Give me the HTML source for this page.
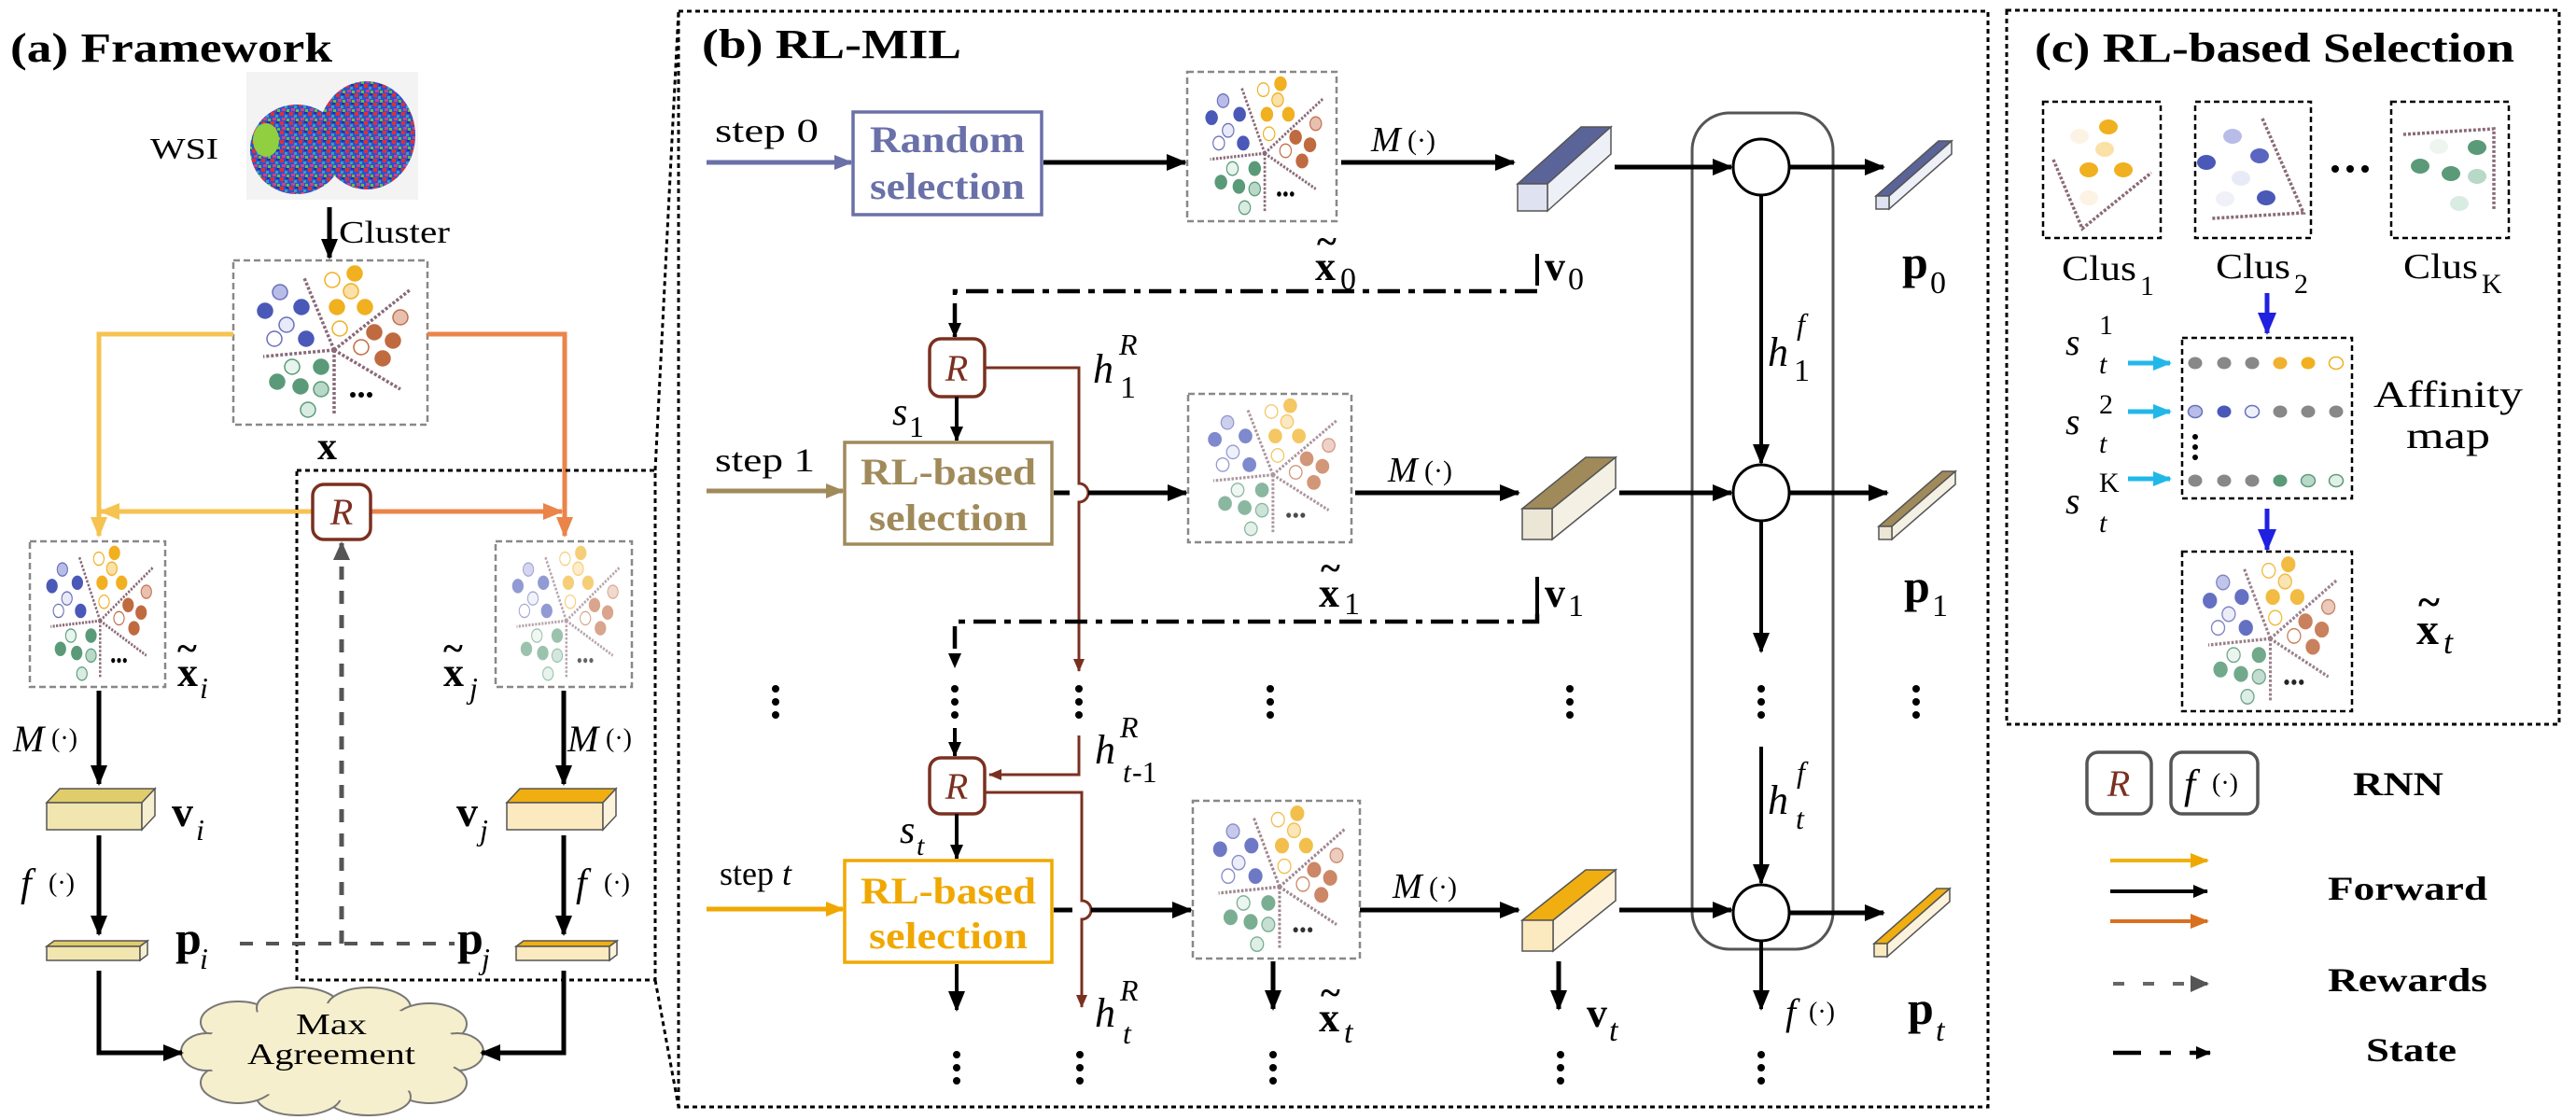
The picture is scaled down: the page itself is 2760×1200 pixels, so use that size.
<!DOCTYPE html>
<html><head><meta charset="utf-8"><style>
html,body{margin:0;padding:0;background:#fff;}
svg{display:block;font-family:"Liberation Serif","DejaVu Serif",serif;}
svg text, svg tspan{font-family:"Liberation Serif","DejaVu Serif",serif;}
.b{font-weight:bold;}
.i{font-style:italic;}
</style></head><body>
<svg width="2760" height="1200" viewBox="0 0 2760 1200" xmlns="http://www.w3.org/2000/svg" font-family="Liberation Serif, DejaVu Serif, serif">
<defs>
<marker id="ak" markerUnits="userSpaceOnUse" markerWidth="22" markerHeight="18" refX="20" refY="9" orient="auto"><path d="M0,0 L22,9 L0,18 z" fill="#000"/></marker>
<marker id="aks" markerUnits="userSpaceOnUse" markerWidth="16" markerHeight="14" refX="15" refY="7" orient="auto"><path d="M0,0 L16,7 L0,14 z" fill="#000"/></marker>
<marker id="ay" markerUnits="userSpaceOnUse" markerWidth="22" markerHeight="18" refX="20" refY="9" orient="auto"><path d="M0,0 L22,9 L0,18 z" fill="#f6c350"/></marker>
<marker id="ao" markerUnits="userSpaceOnUse" markerWidth="22" markerHeight="18" refX="20" refY="9" orient="auto"><path d="M0,0 L22,9 L0,18 z" fill="#eb8448"/></marker>
<marker id="ag" markerUnits="userSpaceOnUse" markerWidth="20" markerHeight="18" refX="18" refY="9" orient="auto"><path d="M0,0 L20,9 L0,18 z" fill="#555"/></marker>
<marker id="abr" markerUnits="userSpaceOnUse" markerWidth="14" markerHeight="12" refX="13" refY="6" orient="auto"><path d="M0,0 L14,6 L0,12 z" fill="#7a3020"/></marker>
<marker id="apu" markerUnits="userSpaceOnUse" markerWidth="20" markerHeight="16" refX="18" refY="8" orient="auto"><path d="M0,0 L20,8 L0,16 z" fill="#6a70a8"/></marker>
<marker id="abn" markerUnits="userSpaceOnUse" markerWidth="20" markerHeight="16" refX="18" refY="8" orient="auto"><path d="M0,0 L20,8 L0,16 z" fill="#a08a5a"/></marker>
<marker id="ayl" markerUnits="userSpaceOnUse" markerWidth="20" markerHeight="16" refX="18" refY="8" orient="auto"><path d="M0,0 L20,8 L0,16 z" fill="#f0a800"/></marker>
<marker id="aor" markerUnits="userSpaceOnUse" markerWidth="20" markerHeight="16" refX="18" refY="8" orient="auto"><path d="M0,0 L20,8 L0,16 z" fill="#d87020"/></marker>
<marker id="abl" markerUnits="userSpaceOnUse" markerWidth="24" markerHeight="20" refX="22" refY="10" orient="auto"><path d="M0,0 L24,10 L0,20 z" fill="#2020e0"/></marker>
<marker id="acy" markerUnits="userSpaceOnUse" markerWidth="20" markerHeight="16" refX="18" refY="8" orient="auto"><path d="M0,0 L20,8 L0,16 z" fill="#20b8e8"/></marker>
<pattern id="wsi" width="10" height="10" patternUnits="userSpaceOnUse">
<rect width="10" height="10" fill="#3050d0"/><rect x="0" y="0" width="4" height="4" fill="#e03030"/><rect x="5" y="3" width="3" height="3" fill="#30a0c0"/><rect x="2" y="6" width="4" height="3" fill="#d04080"/><rect x="7" y="7" width="3" height="3" fill="#60c040"/><rect x="6" y="0" width="3" height="2" fill="#2030a0"/>
</pattern>
<symbol id="sc" viewBox="0 0 208 176" preserveAspectRatio="none">
<g stroke="#8a6a78" stroke-width="3.5" stroke-dasharray="3 2" fill="none">
<line x1="108" y1="96" x2="76" y2="19"/><line x1="108" y1="96" x2="190" y2="31"/><line x1="108" y1="96" x2="179" y2="138"/><line x1="108" y1="96" x2="108" y2="164"/><line x1="108" y1="96" x2="32" y2="103"/>
</g>
<g stroke-width="1.5">
<circle cx="34" cy="54" r="8" fill="#4a58b8" stroke="#4a58b8"/><circle cx="73" cy="50" r="8" fill="#4a58b8" stroke="#4a58b8"/><circle cx="78" cy="84" r="8" fill="#4a58b8" stroke="#4a58b8"/><circle cx="50" cy="34" r="8" fill="#b8bce8" stroke="#6a70b8"/><circle cx="57" cy="69" r="8" fill="#e8eaf8" stroke="#6a70b8"/><circle cx="44" cy="84" r="8" fill="#fff" stroke="#6a70b8"/>
<circle cx="106" cy="21" r="8" fill="#fff" stroke="#f0b020"/><circle cx="130" cy="14" r="8" fill="#f0b020" stroke="#f0b020"/><circle cx="126" cy="33" r="8" fill="#fbe0a8" stroke="#f0b020"/><circle cx="111" cy="50" r="8" fill="#f0b020" stroke="#f0b020"/><circle cx="141" cy="50" r="8" fill="#f0b020" stroke="#f0b020"/><circle cx="114" cy="73" r="8" fill="#fff" stroke="#f0b020"/>
<circle cx="179" cy="61" r="8" fill="#e8c0b0" stroke="#c07050"/><circle cx="151" cy="77" r="8" fill="#c06a40" stroke="#c06a40"/><circle cx="171" cy="86" r="8" fill="#c06a40" stroke="#c06a40"/><circle cx="160" cy="105" r="8" fill="#c06a40" stroke="#c06a40"/><circle cx="137" cy="93" r="8" fill="#fff" stroke="#c06a40"/>
<circle cx="47" cy="130" r="8" fill="#5a9a78" stroke="#5a9a78"/><circle cx="72" cy="135" r="8" fill="#5a9a78" stroke="#5a9a78"/><circle cx="94" cy="114" r="8" fill="#5a9a78" stroke="#5a9a78"/><circle cx="63" cy="114" r="8" fill="#e8f4ee" stroke="#5a9a78"/><circle cx="94" cy="138" r="8" fill="#b8d8c8" stroke="#5a9a78"/><circle cx="80" cy="160" r="8" fill="#d8ece2" stroke="#5a9a78"/>
</g>
<g fill="#000"><circle cx="128" cy="144" r="3"/><circle cx="137" cy="144" r="3"/><circle cx="146" cy="144" r="3"/></g>
</symbol>
</defs>

<!-- ================= PANEL A ================= -->
<text x="11" y="66" class="b" font-size="44" textLength="345" lengthAdjust="spacingAndGlyphs">(a) Framework</text>
<text x="161" y="170" font-size="32" textLength="73" lengthAdjust="spacingAndGlyphs">WSI</text>
<rect x="264" y="77" width="184" height="137" fill="#f3f3f3"/>
<g fill="url(#wsi)"><ellipse cx="318" cy="160" rx="50" ry="48"/><ellipse cx="393" cy="145" rx="52" ry="58"/><ellipse cx="285" cy="150" rx="14" ry="18" fill="#90d040"/></g>
<line x1="353" y1="222" x2="353" y2="276" stroke="#000" stroke-width="5" marker-end="url(#ak)"/>
<text x="363" y="260" font-size="34" textLength="119" lengthAdjust="spacingAndGlyphs">Cluster</text>

<rect x="250" y="279" width="208" height="176" fill="#fff" stroke="#888" stroke-width="2.5" stroke-dasharray="7 4"/>
<use href="#sc" x="250" y="279" width="208" height="176"/>
<text x="340" y="492" class="b" font-size="42">x</text>

<path d="M250,358 H106 V574" fill="none" stroke="#f6c350" stroke-width="5" marker-end="url(#ay)"/>
<path d="M458,358 H605 V574" fill="none" stroke="#eb8448" stroke-width="5" marker-end="url(#ao)"/>
<line x1="335" y1="548" x2="108" y2="548" stroke="#f6c350" stroke-width="5" marker-end="url(#ay)"/>
<line x1="397" y1="548" x2="602" y2="548" stroke="#eb8448" stroke-width="5" marker-end="url(#ao)"/>

<path d="M318,504 H702 V1050 H318 Z" fill="none" stroke="#000" stroke-width="3" stroke-dasharray="5 4"/>
<line x1="702" y1="504" x2="727" y2="12" stroke="#000" stroke-width="3" stroke-dasharray="5 4"/>
<line x1="702" y1="1050" x2="727" y2="1186" stroke="#000" stroke-width="3" stroke-dasharray="5 4"/>

<rect x="335" y="519" width="62" height="59" rx="12" fill="#fff" stroke="#7a3020" stroke-width="3.5"/>
<text x="366" y="562" class="i" font-size="40" fill="#7a3020" text-anchor="middle">R</text>

<rect x="32" y="580" width="145" height="156" fill="#fff" stroke="#888" stroke-width="2.5" stroke-dasharray="7 4"/>
<use href="#sc" x="32" y="580" width="145" height="156"/>
<rect x="531" y="580" width="146" height="156" fill="#fff" stroke="#888" stroke-width="2.5" stroke-dasharray="7 4"/>
<use href="#sc" x="531" y="580" width="146" height="156" opacity="0.6"/>

<text x="190" y="735" class="b" font-size="44">x</text><text x="190" y="708" class="b" font-size="40">~</text>
<text x="214" y="748" class="i" font-size="32">i</text>
<text x="475" y="735" class="b" font-size="44">x</text><text x="475" y="708" class="b" font-size="40">~</text>
<text x="503" y="748" class="i" font-size="32">j</text>

<line x1="106" y1="740" x2="106" y2="840" stroke="#000" stroke-width="5" marker-end="url(#ak)"/>
<line x1="604" y1="740" x2="604" y2="840" stroke="#000" stroke-width="5" marker-end="url(#ak)"/>
<text x="14" y="805" class="i" font-size="40">M</text><text x="55" y="800" font-size="28">(·)</text>
<text x="608" y="805" class="i" font-size="40">M</text><text x="649" y="800" font-size="28">(·)</text>

<g stroke="#555" stroke-width="1.5">
<polygon points="50,860 64,845 166,845 152,860" fill="#e0cc6a"/><rect x="50" y="860" width="102" height="29" fill="#f1e6b0"/><polygon points="152,860 166,845 166,874 152,889" fill="#f5efd0"/>
<polygon points="543,860 557,845 660,845 646,860" fill="#f0ae10"/><rect x="543" y="860" width="103" height="29" fill="#fbe9c0"/><polygon points="646,860 660,845 660,874 646,889" fill="#fdf3dc"/>
</g>
<text x="184" y="885" class="b" font-size="46">v</text><text x="210" y="900" class="i" font-size="32">i</text>
<text x="489" y="885" class="b" font-size="46">v</text><text x="514" y="900" class="i" font-size="32">j</text>

<line x1="106" y1="895" x2="106" y2="1001" stroke="#000" stroke-width="5" marker-end="url(#ak)"/>
<line x1="604" y1="895" x2="604" y2="1001" stroke="#000" stroke-width="5" marker-end="url(#ak)"/>
<text x="22" y="960" class="i" font-size="42">f</text><text x="52" y="955" font-size="28">(·)</text>
<text x="617" y="960" class="i" font-size="42">f</text><text x="647" y="955" font-size="28">(·)</text>

<g stroke="#555" stroke-width="1.5">
<polygon points="50,1014 58,1008 158,1008 150,1014" fill="#e0cc6a"/><rect x="50" y="1014" width="100" height="15" fill="#f1e6b0"/><polygon points="150,1014 158,1008 158,1023 150,1029" fill="#f5efd0"/>
<polygon points="553,1014 561,1008 661,1008 653,1014" fill="#f0ae10"/><rect x="553" y="1014" width="100" height="15" fill="#fbe9c0"/><polygon points="653,1014 661,1008 661,1023 653,1029" fill="#fdf3dc"/>
</g>
<text x="188" y="1022" class="b" font-size="50">p</text><text x="214" y="1038" class="i" font-size="32">i</text>
<text x="490" y="1022" class="b" font-size="50">p</text><text x="516" y="1038" class="i" font-size="32">j</text>

<line x1="257" y1="1011" x2="487" y2="1011" stroke="#555" stroke-width="4" stroke-dasharray="14 14"/>
<line x1="366" y1="1011" x2="366" y2="582" stroke="#555" stroke-width="5" stroke-dasharray="14 12" marker-end="url(#ag)"/>

<g fill="#f6efcd" stroke="#777" stroke-width="2">
<ellipse cx="255" cy="1095" rx="40" ry="22"/><ellipse cx="320" cy="1080" rx="45" ry="22"/><ellipse cx="395" cy="1080" rx="45" ry="22"/><ellipse cx="460" cy="1097" rx="40" ry="22"/>
<ellipse cx="490" cy="1127" rx="28" ry="20"/><ellipse cx="460" cy="1160" rx="40" ry="22"/><ellipse cx="395" cy="1175" rx="45" ry="20"/><ellipse cx="320" cy="1175" rx="45" ry="20"/><ellipse cx="255" cy="1160" rx="40" ry="22"/><ellipse cx="222" cy="1127" rx="28" ry="20"/>
</g>
<ellipse cx="355" cy="1127" rx="138" ry="52" fill="#f6efcd"/>
<text x="355" y="1108" font-size="32" text-anchor="middle" textLength="76" lengthAdjust="spacingAndGlyphs">Max</text>
<text x="355" y="1140" font-size="32" text-anchor="middle" textLength="180" lengthAdjust="spacingAndGlyphs">Agreement</text>
<path d="M106,1040 V1128 H195" fill="none" stroke="#000" stroke-width="5" marker-end="url(#ak)"/>
<path d="M604,1040 V1128 H516" fill="none" stroke="#000" stroke-width="5" marker-end="url(#ak)"/>

<!-- ================= PANEL B ================= -->
<rect x="727" y="12" width="1403" height="1174" fill="none" stroke="#000" stroke-width="3" stroke-dasharray="5 4"/>
<text x="752" y="62" class="b" font-size="44" textLength="278" lengthAdjust="spacingAndGlyphs">(b) RL-MIL</text>

<rect x="1813" y="121" width="151" height="896" rx="40" fill="none" stroke="#555" stroke-width="3"/>

<text x="766" y="152" font-size="36" textLength="111" lengthAdjust="spacingAndGlyphs">step 0</text>
<line x1="757" y1="174" x2="912" y2="174" stroke="#6a70a8" stroke-width="5" marker-end="url(#apu)"/>
<rect x="914" y="120" width="202" height="110" fill="#fff" stroke="#6a70a8" stroke-width="3.5"/>
<text x="1015" y="163" class="b" font-size="40" fill="#6a70a8" text-anchor="middle" textLength="166" lengthAdjust="spacingAndGlyphs">Random</text>
<text x="1015" y="213" class="b" font-size="40" fill="#6a70a8" text-anchor="middle" textLength="166" lengthAdjust="spacingAndGlyphs">selection</text>
<line x1="1118" y1="174" x2="1270" y2="174" stroke="#000" stroke-width="5" marker-end="url(#ak)"/>
<rect x="1272" y="77" width="160" height="160" fill="#fff" stroke="#888" stroke-width="2.5" stroke-dasharray="7 4"/>
<use href="#sc" x="1272" y="77" width="160" height="160"/>
<text x="1409" y="300" class="b" font-size="44">x</text><text x="1411" y="272" class="b" font-size="40">~</text><text x="1436" y="310" font-size="34">0</text>
<text x="1469" y="162" class="i" font-size="38">M</text><text x="1508" y="160" font-size="30">(·)</text>
<line x1="1437" y1="174" x2="1622" y2="174" stroke="#000" stroke-width="5" marker-end="url(#ak)"/>
<g stroke="#555" stroke-width="1.5">
<polygon points="1626,197 1694,136 1726,136 1658,197" fill="#5a6498"/><polygon points="1658,197 1726,136 1726,165 1658,226" fill="#eef0f8"/><rect x="1626" y="197" width="32" height="29" fill="#dfe2f0"/>
</g>
<line x1="1647" y1="272" x2="1647" y2="306" stroke="#000" stroke-width="4"/>
<text x="1655" y="300" class="b" font-size="44">v</text><text x="1680" y="310" font-size="34">0</text>
<line x1="1730" y1="179" x2="1855" y2="179" stroke="#000" stroke-width="5" marker-end="url(#ak)"/>
<circle cx="1887" cy="179" r="30" fill="#fff" stroke="#000" stroke-width="3"/>
<line x1="1917" y1="179" x2="2018" y2="179" stroke="#000" stroke-width="5" marker-end="url(#ak)"/>
<g stroke="#555" stroke-width="1.5">
<polygon points="2010,210 2077,151 2091,151 2024,210" fill="#5a6498"/><polygon points="2024,210 2091,151 2091,165 2024,224" fill="#eef0f8"/><rect x="2010" y="210" width="14" height="14" fill="#dfe2f0"/>
</g>
<text x="2038" y="298" class="b" font-size="50">p</text><text x="2068" y="314" font-size="34">0</text>

<line x1="1887" y1="209" x2="1887" y2="496" stroke="#000" stroke-width="4" marker-end="url(#ak)"/>
<text x="1894" y="392" class="i" font-size="44">h</text><text x="1925" y="358" class="i" font-size="32">f</text><text x="1922" y="408" font-size="34">1</text>
<line x1="1887" y1="558" x2="1887" y2="698" stroke="#000" stroke-width="4" marker-end="url(#ak)"/>
<line x1="1887" y1="800" x2="1887" y2="946" stroke="#000" stroke-width="4" marker-end="url(#ak)"/>
<text x="1894" y="872" class="i" font-size="44">h</text><text x="1925" y="838" class="i" font-size="32">f</text><text x="1924" y="888" class="i" font-size="32">t</text>
<line x1="1887" y1="1008" x2="1887" y2="1081" stroke="#000" stroke-width="4" marker-end="url(#ak)"/>
<text x="1913" y="1098" class="i" font-size="40">f</text><text x="1938" y="1093" font-size="28">(·)</text>

<path d="M1647,312 H1023 V361" fill="none" stroke="#000" stroke-width="4.5" stroke-dasharray="24 9 7 9" marker-end="url(#aks)"/>
<rect x="996" y="363" width="59" height="62" rx="12" fill="#fff" stroke="#7a3020" stroke-width="3.5"/>
<text x="1025" y="408" class="i" font-size="40" fill="#7a3020" text-anchor="middle">R</text>
<line x1="1025" y1="425" x2="1025" y2="472" stroke="#000" stroke-width="4" marker-end="url(#aks)"/>
<text x="956" y="455" class="i" font-size="42">s</text><text x="974" y="468" font-size="32">1</text>
<path d="M1055,394 H1156 V518 a10,10 0 0 1 0,20 V719" fill="none" stroke="#7a3020" stroke-width="3" marker-end="url(#abr)"/>
<text x="1171" y="410" class="i" font-size="44">h</text><text x="1199" y="380" class="i" font-size="32">R</text><text x="1200" y="426" font-size="34">1</text>

<text x="766" y="505" font-size="36" textLength="107" lengthAdjust="spacingAndGlyphs">step 1</text>
<line x1="757" y1="526" x2="903" y2="526" stroke="#a08a5a" stroke-width="5" marker-end="url(#abn)"/>
<rect x="905" y="474" width="222" height="109" fill="#fff" stroke="#a08a5a" stroke-width="3.5"/>
<text x="1016" y="519" class="b" font-size="40" fill="#a08a5a" text-anchor="middle" textLength="188" lengthAdjust="spacingAndGlyphs">RL-based</text>
<text x="1016" y="568" class="b" font-size="40" fill="#a08a5a" text-anchor="middle" textLength="170" lengthAdjust="spacingAndGlyphs">selection</text>
<line x1="1129" y1="528" x2="1146" y2="528" stroke="#000" stroke-width="5"/>
<line x1="1166" y1="528" x2="1271" y2="528" stroke="#000" stroke-width="5" marker-end="url(#ak)"/>
<rect x="1273" y="422" width="175" height="159" fill="#fff" stroke="#888" stroke-width="2.5" stroke-dasharray="7 4"/>
<use href="#sc" x="1273" y="422" width="175" height="159" opacity="0.7"/>
<text x="1413" y="650" class="b" font-size="44">x</text><text x="1415" y="622" class="b" font-size="40">~</text><text x="1440" y="658" font-size="34">1</text>
<text x="1487" y="516" class="i" font-size="38">M</text><text x="1526" y="514" font-size="30">(·)</text>
<line x1="1452" y1="528" x2="1627" y2="528" stroke="#000" stroke-width="5" marker-end="url(#ak)"/>
<g stroke="#555" stroke-width="1.5">
<polygon points="1631,545 1699,490 1731,490 1663,545" fill="#a08a5a"/><polygon points="1663,545 1731,490 1731,523 1663,578" fill="#f4f0e4"/><rect x="1631" y="545" width="32" height="33" fill="#ebe6d6"/>
</g>
<line x1="1647" y1="618" x2="1647" y2="658" stroke="#000" stroke-width="4"/>
<text x="1655" y="650" class="b" font-size="44">v</text><text x="1680" y="660" font-size="34">1</text>
<line x1="1735" y1="528" x2="1855" y2="528" stroke="#000" stroke-width="5" marker-end="url(#ak)"/>
<circle cx="1887" cy="528" r="30" fill="#fff" stroke="#000" stroke-width="3"/>
<line x1="1917" y1="528" x2="2022" y2="528" stroke="#000" stroke-width="5" marker-end="url(#ak)"/>
<g stroke="#555" stroke-width="1.5">
<polygon points="2013,564 2081,505 2095,505 2027,564" fill="#a08a5a"/><polygon points="2027,564 2095,505 2095,519 2027,578" fill="#f4f0e4"/><rect x="2013" y="564" width="14" height="14" fill="#ebe6d6"/>
</g>
<text x="2040" y="645" class="b" font-size="50">p</text><text x="2070" y="660" font-size="34">1</text>

<path d="M1647,658 V666 H1023 V715" fill="none" stroke="#000" stroke-width="4.5" stroke-dasharray="24 9 7 9" marker-end="url(#aks)"/>

<g fill="#000">
<circle cx="831" cy="738" r="4"/><circle cx="831" cy="752" r="4"/><circle cx="831" cy="766" r="4"/>
<circle cx="1023" cy="738" r="4"/><circle cx="1023" cy="752" r="4"/><circle cx="1023" cy="766" r="4"/>
<circle cx="1156" cy="738" r="4"/><circle cx="1156" cy="752" r="4"/><circle cx="1156" cy="766" r="4"/>
<circle cx="1361" cy="738" r="4"/><circle cx="1361" cy="752" r="4"/><circle cx="1361" cy="766" r="4"/>
<circle cx="1682" cy="738" r="4"/><circle cx="1682" cy="752" r="4"/><circle cx="1682" cy="766" r="4"/>
<circle cx="1887" cy="738" r="4"/><circle cx="1887" cy="752" r="4"/><circle cx="1887" cy="766" r="4"/>
<circle cx="2053" cy="738" r="4"/><circle cx="2053" cy="752" r="4"/><circle cx="2053" cy="766" r="4"/>
</g>
<line x1="1023" y1="780" x2="1023" y2="810" stroke="#000" stroke-width="4" marker-end="url(#aks)"/>

<rect x="996" y="812" width="59" height="60" rx="12" fill="#fff" stroke="#7a3020" stroke-width="3.5"/>
<text x="1025" y="856" class="i" font-size="40" fill="#7a3020" text-anchor="middle">R</text>
<path d="M1156,788 V830 H1060" fill="none" stroke="#7a3020" stroke-width="3" marker-end="url(#abr)"/>
<text x="1173" y="818" class="i" font-size="44">h</text><text x="1200" y="790" class="i" font-size="32">R</text><text x="1203" y="838" class="i" font-size="32">t</text><text x="1213" y="838" font-size="32">-1</text>
<path d="M1055,849 H1159 V965 a10,10 0 0 1 0,20 V1079" fill="none" stroke="#7a3020" stroke-width="3" marker-end="url(#abr)"/>
<text x="1173" y="1100" class="i" font-size="44">h</text><text x="1200" y="1072" class="i" font-size="32">R</text><text x="1203" y="1118" class="i" font-size="32">t</text>
<line x1="1025" y1="872" x2="1025" y2="920" stroke="#000" stroke-width="4" marker-end="url(#aks)"/>
<text x="964" y="903" class="i" font-size="42">s</text><text x="982" y="916" class="i" font-size="30">t</text>

<text x="771" y="948" font-size="36">step <tspan class="i">t</tspan></text>
<line x1="757" y1="974" x2="903" y2="974" stroke="#f0a800" stroke-width="5" marker-end="url(#ayl)"/>
<rect x="905" y="922" width="222" height="109" fill="#fff" stroke="#f0a800" stroke-width="3.5"/>
<text x="1016" y="968" class="b" font-size="40" fill="#f0a800" text-anchor="middle" textLength="188" lengthAdjust="spacingAndGlyphs">RL-based</text>
<text x="1016" y="1016" class="b" font-size="40" fill="#f0a800" text-anchor="middle" textLength="170" lengthAdjust="spacingAndGlyphs">selection</text>
<line x1="1129" y1="975" x2="1149" y2="975" stroke="#000" stroke-width="5"/>
<line x1="1169" y1="975" x2="1276" y2="975" stroke="#000" stroke-width="5" marker-end="url(#ak)"/>
<line x1="1025" y1="1033" x2="1025" y2="1082" stroke="#000" stroke-width="4" marker-end="url(#ak)"/>
<rect x="1278" y="858" width="179" height="169" fill="#fff" stroke="#888" stroke-width="2.5" stroke-dasharray="7 4"/>
<use href="#sc" x="1278" y="858" width="179" height="169" opacity="0.8"/>
<line x1="1364" y1="1030" x2="1364" y2="1081" stroke="#000" stroke-width="5" marker-end="url(#ak)"/>
<text x="1413" y="1105" class="b" font-size="44">x</text><text x="1415" y="1077" class="b" font-size="40">~</text><text x="1440" y="1117" class="i" font-size="34">t</text>
<text x="1492" y="962" class="i" font-size="38">M</text><text x="1531" y="960" font-size="30">(·)</text>
<line x1="1457" y1="975" x2="1627" y2="975" stroke="#000" stroke-width="5" marker-end="url(#ak)"/>
<g stroke="#555" stroke-width="1.5">
<polygon points="1631,986 1699,932 1731,932 1664,986" fill="#f0ae10"/><polygon points="1664,986 1731,932 1731,965 1664,1019" fill="#fdf3dc"/><rect x="1631" y="986" width="33" height="33" fill="#fbe9c0"/>
</g>
<line x1="1670" y1="1030" x2="1670" y2="1081" stroke="#000" stroke-width="5" marker-end="url(#ak)"/>
<text x="1700" y="1100" class="b" font-size="44">v</text><text x="1724" y="1115" class="i" font-size="34">t</text>
<line x1="1735" y1="975" x2="1855" y2="975" stroke="#000" stroke-width="5" marker-end="url(#ak)"/>
<circle cx="1887" cy="978" r="30" fill="#fff" stroke="#000" stroke-width="3"/>
<line x1="1917" y1="978" x2="2018" y2="978" stroke="#000" stroke-width="5" marker-end="url(#ak)"/>
<g stroke="#555" stroke-width="1.5">
<polygon points="2008,1011 2075,952 2089,952 2022,1011" fill="#f0ae10"/><polygon points="2022,1011 2089,952 2089,966 2022,1025" fill="#fdf3dc"/><rect x="2008" y="1011" width="14" height="14" fill="#fbe9c0"/>
</g>
<text x="2044" y="1097" class="b" font-size="50">p</text><text x="2074" y="1115" class="i" font-size="34">t</text>

<g fill="#000">
<circle cx="1025" cy="1130" r="4"/><circle cx="1025" cy="1144" r="4"/><circle cx="1025" cy="1158" r="4"/>
<circle cx="1157" cy="1130" r="4"/><circle cx="1157" cy="1144" r="4"/><circle cx="1157" cy="1158" r="4"/>
<circle cx="1364" cy="1130" r="4"/><circle cx="1364" cy="1144" r="4"/><circle cx="1364" cy="1158" r="4"/>
<circle cx="1672" cy="1130" r="4"/><circle cx="1672" cy="1144" r="4"/><circle cx="1672" cy="1158" r="4"/>
<circle cx="1887" cy="1130" r="4"/><circle cx="1887" cy="1144" r="4"/><circle cx="1887" cy="1158" r="4"/>
</g>

<!-- ================= PANEL C ================= -->
<rect x="2150" y="11" width="592" height="765" fill="none" stroke="#000" stroke-width="3" stroke-dasharray="5 4"/>
<text x="2180" y="66" class="b" font-size="44" textLength="514" lengthAdjust="spacingAndGlyphs">(c) RL-based Selection</text>

<g fill="#fff" stroke="#000" stroke-width="2.5" stroke-dasharray="6 4">
<rect x="2189" y="109" width="126" height="146"/><rect x="2352" y="109" width="124" height="146"/><rect x="2562" y="109" width="126" height="146"/>
</g>
<polyline points="2200,171 2231,245 2305,185" fill="none" stroke="#8a6a78" stroke-width="3.5" stroke-dasharray="3 2"/>
<g><ellipse cx="2228" cy="146" rx="10" ry="8" fill="#fdf3e4"/><ellipse cx="2259" cy="136" rx="10" ry="8" fill="#f0b020"/><ellipse cx="2255" cy="160" rx="10" ry="8" fill="#fbe0a8"/><ellipse cx="2238" cy="182" rx="10" ry="8" fill="#f0b020"/><ellipse cx="2275" cy="182" rx="10" ry="8" fill="#f0b020"/><ellipse cx="2238" cy="212" rx="10" ry="8" fill="#fdf3e4"/></g>
<polyline points="2424,127 2468,228 2370,234" fill="none" stroke="#8a6a78" stroke-width="3.5" stroke-dasharray="3 2"/>
<g><ellipse cx="2392" cy="146" rx="10" ry="8" fill="#b8bce8"/><ellipse cx="2364" cy="174" rx="10" ry="8" fill="#4a58b8"/><ellipse cx="2421" cy="167" rx="10" ry="8" fill="#5a66c0"/><ellipse cx="2401" cy="191" rx="10" ry="8" fill="#e8eaf8"/><ellipse cx="2384" cy="213" rx="10" ry="8" fill="#f0f0f8"/><ellipse cx="2428" cy="212" rx="10" ry="8" fill="#4a58b8"/></g>
<g fill="#000"><circle cx="2502" cy="181" r="4"/><circle cx="2518" cy="181" r="4"/><circle cx="2534" cy="181" r="4"/></g>
<polyline points="2575,144 2672,138 2672,225" fill="none" stroke="#8a6a78" stroke-width="3.5" stroke-dasharray="3 2"/>
<g><ellipse cx="2613" cy="157" rx="10" ry="8" fill="#eef4f0"/><ellipse cx="2654" cy="158" rx="10" ry="8" fill="#5a9a78"/><ellipse cx="2593" cy="178" rx="10" ry="8" fill="#5a9a78"/><ellipse cx="2626" cy="186" rx="10" ry="8" fill="#5a9a78"/><ellipse cx="2654" cy="189" rx="10" ry="8" fill="#b8d8c8"/><ellipse cx="2635" cy="218" rx="10" ry="8" fill="#d8ece2"/></g>
<text x="2209" y="300" font-size="38" textLength="80" lengthAdjust="spacingAndGlyphs">Clus</text><text x="2293" y="316" font-size="30">1</text>
<text x="2374" y="298" font-size="38" textLength="80" lengthAdjust="spacingAndGlyphs">Clus</text><text x="2458" y="314" font-size="30">2</text>
<text x="2575" y="298" font-size="38" textLength="80" lengthAdjust="spacingAndGlyphs">Clus</text><text x="2659" y="314" font-size="30">K</text>

<line x1="2429" y1="314" x2="2429" y2="357" stroke="#2020e0" stroke-width="5" marker-end="url(#abl)"/>
<rect x="2338" y="362" width="182" height="172" fill="#fff" stroke="#000" stroke-width="2.5" stroke-dasharray="6 4"/>
<g>
<ellipse cx="2352" cy="389" rx="7.5" ry="6.5" fill="#888"/><ellipse cx="2383" cy="389" rx="7.5" ry="6.5" fill="#888"/><ellipse cx="2413" cy="389" rx="7.5" ry="6.5" fill="#888"/><ellipse cx="2443" cy="389" rx="7.5" ry="6.5" fill="#f0b030"/><ellipse cx="2473" cy="389" rx="7.5" ry="6.5" fill="#f0b020"/><ellipse cx="2503" cy="389" rx="7.5" ry="6.5" fill="#fff" stroke="#f0b020" stroke-width="1.5"/>
<ellipse cx="2352" cy="441" rx="7.5" ry="6.5" fill="#b8bce8" stroke="#6a70b8" stroke-width="1.5"/><ellipse cx="2383" cy="441" rx="7.5" ry="6.5" fill="#4a58b8"/><ellipse cx="2413" cy="441" rx="7.5" ry="6.5" fill="#eef0fa" stroke="#6a70b8" stroke-width="1.5"/><ellipse cx="2443" cy="441" rx="7.5" ry="6.5" fill="#888"/><ellipse cx="2473" cy="441" rx="7.5" ry="6.5" fill="#888"/><ellipse cx="2503" cy="441" rx="7.5" ry="6.5" fill="#888"/>
<ellipse cx="2352" cy="515" rx="7.5" ry="6.5" fill="#888"/><ellipse cx="2383" cy="515" rx="7.5" ry="6.5" fill="#888"/><ellipse cx="2413" cy="515" rx="7.5" ry="6.5" fill="#888"/><ellipse cx="2443" cy="515" rx="7.5" ry="6.5" fill="#5a9a78"/><ellipse cx="2473" cy="515" rx="7.5" ry="6.5" fill="#b8d8c8" stroke="#5a9a78" stroke-width="1.5"/><ellipse cx="2503" cy="515" rx="7.5" ry="6.5" fill="#e0f0e8" stroke="#5a9a78" stroke-width="1.5"/>
<circle cx="2352" cy="468" r="3" fill="#000"/><circle cx="2352" cy="479" r="3" fill="#000"/><circle cx="2352" cy="490" r="3" fill="#000"/>
</g>
<g stroke="#20b8e8" stroke-width="5">
<line x1="2280" y1="389" x2="2325" y2="389" marker-end="url(#acy)"/><line x1="2280" y1="441" x2="2325" y2="441" marker-end="url(#acy)"/><line x1="2280" y1="513" x2="2325" y2="513" marker-end="url(#acy)"/>
</g>
<text x="2213" y="380" class="i" font-size="40">s</text><text x="2249" y="358" font-size="30">1</text><text x="2249" y="400" class="i" font-size="30">t</text>
<text x="2213" y="465" class="i" font-size="40">s</text><text x="2249" y="443" font-size="30">2</text><text x="2249" y="485" class="i" font-size="30">t</text>
<text x="2213" y="550" class="i" font-size="40">s</text><text x="2249" y="527" font-size="30">K</text><text x="2249" y="570" class="i" font-size="30">t</text>
<text x="2623" y="436" font-size="40" text-anchor="middle" textLength="160" lengthAdjust="spacingAndGlyphs">Affinity</text>
<text x="2623" y="480" font-size="40" text-anchor="middle" textLength="90" lengthAdjust="spacingAndGlyphs">map</text>
<line x1="2429" y1="545" x2="2429" y2="589" stroke="#2020e0" stroke-width="5" marker-end="url(#abl)"/>
<rect x="2338" y="591" width="182" height="171" fill="#fff" stroke="#000" stroke-width="2.5" stroke-dasharray="6 4"/>
<use href="#sc" x="2338" y="591" width="182" height="171" opacity="0.85"/>
<text x="2589" y="690" class="b" font-size="48">x</text><text x="2591" y="660" class="b" font-size="44">~</text><text x="2618" y="700" class="i" font-size="36">t</text>

<rect x="2236" y="806" width="69" height="66" rx="12" fill="#fff" stroke="#555" stroke-width="3.5"/>
<text x="2270" y="853" class="i" font-size="40" fill="#7a3020" text-anchor="middle">R</text>
<rect x="2326" y="806" width="93" height="66" rx="12" fill="#fff" stroke="#555" stroke-width="3.5"/>
<text x="2340" y="855" class="i" font-size="44">f</text><text x="2370" y="848" font-size="28">(·)</text>
<text x="2521" y="852" class="b" font-size="36" textLength="97" lengthAdjust="spacingAndGlyphs">RNN</text>
<line x1="2261" y1="922" x2="2365" y2="922" stroke="#f0b010" stroke-width="4" marker-end="url(#ayl)"/>
<line x1="2261" y1="955" x2="2365" y2="955" stroke="#000" stroke-width="4" marker-end="url(#aks)"/>
<line x1="2261" y1="987" x2="2365" y2="987" stroke="#d87020" stroke-width="4" marker-end="url(#aor)"/>
<text x="2494" y="964" class="b" font-size="36" textLength="171" lengthAdjust="spacingAndGlyphs">Forward</text>
<line x1="2264" y1="1054" x2="2365" y2="1054" stroke="#666" stroke-width="4" stroke-dasharray="12 20" marker-end="url(#ag)"/>
<text x="2494" y="1062" class="b" font-size="36" textLength="171" lengthAdjust="spacingAndGlyphs">Rewards</text>
<line x1="2264" y1="1128" x2="2368" y2="1128" stroke="#000" stroke-width="4.5" stroke-dasharray="30 20 12 20" marker-end="url(#aks)"/>
<text x="2535" y="1137" class="b" font-size="36" textLength="97" lengthAdjust="spacingAndGlyphs">State</text>
</svg>
</body></html>
